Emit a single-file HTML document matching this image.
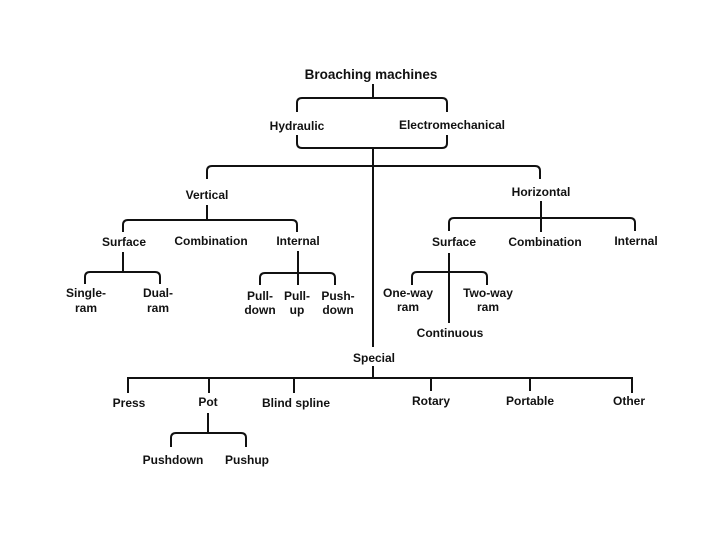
<!DOCTYPE html>
<html><head><meta charset="utf-8"><style>
html,body{margin:0;padding:0;background:#fff;}
svg{display:block;}
text{font-family:"Liberation Sans",Arial,sans-serif;font-weight:bold;font-size:12px;fill:#111;text-anchor:middle;}
path,line{stroke:#111;stroke-width:2;fill:none;}
</style></head><body>
<svg width="720" height="540" viewBox="0 0 720 540" xmlns="http://www.w3.org/2000/svg">
<text x="371" y="79" style="font-size:13.5px">Broaching machines</text>
<line x1="373" y1="84" x2="373" y2="98"/>
<path d="M297 112 V103 Q297 98 302 98 H442 Q447 98 447 103 V112"/>
<text x="297" y="130">Hydraulic</text>
<text x="452" y="129">Electromechanical</text>
<path d="M297 135 V143 Q297 148 302 148 H442 Q447 148 447 143 V135"/>
<line x1="373" y1="148" x2="373" y2="347"/>
<path d="M207 179 V171 Q207 166 212 166 H535 Q540 166 540 171 V179"/>
<text x="207" y="199">Vertical</text>
<text x="541" y="196">Horizontal</text>

<line x1="207" y1="205" x2="207" y2="220"/>
<path d="M123 232 V225 Q123 220 128 220 H292 Q297 220 297 225 V232"/>
<text x="124" y="246">Surface</text>
<text x="211" y="245">Combination</text>
<text x="298" y="245">Internal</text>
<line x1="123" y1="252" x2="123" y2="272"/>
<path d="M85 284 V277 Q85 272 90 272 H155 Q160 272 160 277 V284"/>
<text x="86" y="297">Single-</text><text x="86" y="312">ram</text>
<text x="158" y="297">Dual-</text><text x="158" y="312">ram</text>
<line x1="298" y1="251" x2="298" y2="285"/>
<path d="M260 285 V278 Q260 273 265 273 H330 Q335 273 335 278 V285"/>
<text x="260" y="300">Pull-</text><text x="260" y="314">down</text>
<text x="297" y="300">Pull-</text><text x="297" y="314">up</text>
<text x="338" y="300">Push-</text><text x="338" y="314">down</text>

<line x1="541" y1="201" x2="541" y2="232"/>
<path d="M449 231 V223 Q449 218 454 218 H630 Q635 218 635 223 V231"/>
<text x="454" y="246">Surface</text>
<text x="545" y="246">Combination</text>
<text x="636" y="245">Internal</text>
<line x1="449" y1="253" x2="449" y2="323"/>
<path d="M412 285 V277 Q412 272 417 272 H482 Q487 272 487 277 V285"/>
<text x="408" y="297">One-way</text><text x="408" y="311">ram</text>
<text x="488" y="297">Two-way</text><text x="488" y="311">ram</text>
<text x="450" y="337">Continuous</text>

<text x="374" y="362">Special</text>
<line x1="373" y1="366" x2="373" y2="378"/>
<line x1="127" y1="378" x2="633" y2="378"/>
<line x1="128" y1="377" x2="128" y2="393"/>
<line x1="209" y1="377" x2="209" y2="393"/>
<line x1="294" y1="377" x2="294" y2="393"/>
<line x1="431" y1="377" x2="431" y2="391"/>
<line x1="530" y1="377" x2="530" y2="391"/>
<line x1="632" y1="377" x2="632" y2="393"/>
<text x="129" y="407">Press</text>
<text x="208" y="406">Pot</text>
<text x="296" y="407">Blind spline</text>
<text x="431" y="405">Rotary</text>
<text x="530" y="405">Portable</text>
<text x="629" y="405">Other</text>
<line x1="208" y1="413" x2="208" y2="433"/>
<path d="M171 447 V438 Q171 433 176 433 H241 Q246 433 246 438 V447"/>
<text x="173" y="464">Pushdown</text>
<text x="247" y="464">Pushup</text>
</svg>
</body></html>
